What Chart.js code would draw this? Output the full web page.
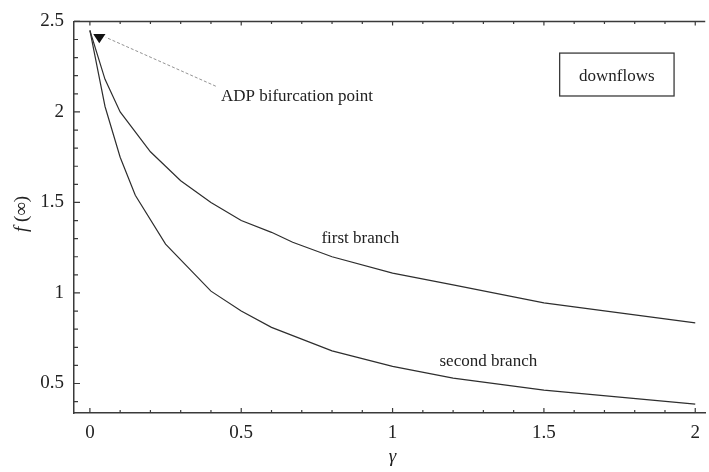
<!DOCTYPE html>
<html lang="en">
<head>
  <meta charset="UTF-8">
  <title>f(∞) vs γ — downflows</title>
  <script src="https://cdn.jsdelivr.net/npm/chart.js@4.4.0/dist/chart.umd.min.js"></script>
  <style>
    * { box-sizing: border-box; margin: 0; padding: 0; }
    body { background: #fff; width: 709px; height: 472px; overflow: hidden; }
    canvas { display: block; }
  </style>
</head>
<body>
  <canvas id="chart" width="709" height="472"></canvas>

  <script>
    // first branch
    const gammaFirst = [0, 0.05, 0.1, 0.2, 0.25, 0.3, 0.4, 0.5, 0.6, 0.67, 0.8, 1.0, 1.2, 1.5, 2.0];
    const fFirst     = [2.45, 2.18, 2.0, 1.78, 1.70, 1.62, 1.50, 1.40, 1.335, 1.28, 1.20, 1.11, 1.045, 0.945, 0.835];

    // second branch
    const gammaSecond = [0, 0.05, 0.1, 0.15, 0.25, 0.4, 0.5, 0.6, 0.8, 1.0, 1.2, 1.5, 2.0];
    const fSecond     = [2.45, 2.03, 1.75, 1.54, 1.27, 1.01, 0.90, 0.81, 0.68, 0.595, 0.53, 0.463, 0.386];

    const xTicks = [0, 0.5, 1, 1.5, 2];
    const yTicks = [0.5, 1, 1.5, 2, 2.5];

    const SERIF = "'Liberation Serif', 'DejaVu Serif', serif";
    const AXIS = '#3a3a3a';
    const INK = '#222';

    const pts = (xs, ys) => xs.map((x, i) => ({ x, y: ys[i] }));

    // inward ticks, open top frame, labels and arrow
    const decorations = {
      id: 'decorations',
      afterDraw(chart) {
        const { ctx, chartArea: a, scales: { x, y } } = chart;
        const X = v => x.getPixelForValue(v);
        const Y = v => y.getPixelForValue(v);
        ctx.save();

        // top frame line (no right side)
        ctx.strokeStyle = AXIS;
        ctx.lineWidth = 1.5;
        ctx.beginPath();
        ctx.moveTo(a.left, a.top);
        ctx.lineTo(a.right, a.top);
        ctx.stroke();

        ctx.lineWidth = 1.2;
        ctx.beginPath();
        for (let i = 0; i <= 20; i++) {
          const v = i / 10, px = X(v), major = i % 5 === 0;
          ctx.moveTo(px, a.bottom); ctx.lineTo(px, a.bottom - (major ? 5 : 3));
          ctx.moveTo(px, a.top); ctx.lineTo(px, a.top + (major ? 4 : 2.5));
        }
        for (let i = 4; i <= 25; i++) {
          const v = i / 10, py = Y(v), major = i % 5 === 0;
          ctx.moveTo(a.left, py); ctx.lineTo(a.left + (major ? 6 : 4), py);
        }
        ctx.stroke();

        // axis titles
        ctx.fillStyle = INK;
        ctx.textAlign = 'center';
        ctx.textBaseline = 'middle';
        ctx.font = 'italic 19px ' + SERIF;
        ctx.fillText('γ', X(1), 457);

        ctx.save();
        ctx.translate(22, 214);
        ctx.rotate(-Math.PI / 2);
        ctx.textAlign = 'left';
        const fw = ctx.measureText('f').width;
        ctx.font = '19px ' + SERIF;
        const rest = ' (∞)';
        const total = fw + ctx.measureText(rest).width;
        ctx.font = 'italic 19px ' + SERIF;
        ctx.fillText('f', -total / 2, 0);
        ctx.font = '19px ' + SERIF;
        ctx.fillText(rest, -total / 2 + fw, 0);
        ctx.restore();

        // annotations
        ctx.font = '17px ' + SERIF;
        ctx.textAlign = 'left';
        ctx.textBaseline = 'alphabetic';
        ctx.fillText('ADP bifurcation point', X(0.433), Y(2.062));
        ctx.fillText('first branch', X(0.765), Y(1.275));
        ctx.fillText('second branch', X(1.155), Y(0.594));

        // boxed label
        ctx.strokeStyle = AXIS;
        ctx.lineWidth = 1.3;
        ctx.strokeRect(X(1.552), Y(2.325), X(1.930) - X(1.552), Y(2.088) - Y(2.325));
        ctx.textAlign = 'center';
        ctx.fillText('downflows', (X(1.552) + X(1.930)) / 2, Y(2.17));

        // dashed arrow to the bifurcation point
        ctx.strokeStyle = '#777';
        ctx.lineWidth = 0.8;
        ctx.setLineDash([3, 2]);
        ctx.beginPath();
        ctx.moveTo(X(0.416), Y(2.142));
        ctx.lineTo(X(0.0525), Y(2.412));
        ctx.stroke();
        ctx.setLineDash([]);
        ctx.fillStyle = '#111';
        ctx.beginPath();
        ctx.moveTo(X(0.011), Y(2.431));
        ctx.lineTo(X(0.0515), Y(2.431));
        ctx.lineTo(X(0.031), Y(2.38));
        ctx.closePath();
        ctx.fill();

        ctx.restore();
      }
    };

    new Chart(document.getElementById('chart'), {
      type: 'line',
      data: {
        datasets: [
          { label: 'first branch', data: pts(gammaFirst, fFirst) },
          { label: 'second branch', data: pts(gammaSecond, fSecond) }
        ]
      },
      options: {
        responsive: false,
        animation: false,
        layout: { padding: { top: 18, right: 0, left: 0, bottom: 0 } },
        elements: {
          line: { borderColor: '#2e2e2e', borderWidth: 1.2, tension: 0, fill: false },
          point: { radius: 0 }
        },
        plugins: { legend: { display: false }, tooltip: { enabled: false } },
        scales: {
          x: {
            type: 'linear',
            min: -0.0525,
            max: 2.033,
            afterBuildTicks: s => { s.ticks = xTicks.map(v => ({ value: v })); },
            afterFit: s => { s.height = 59; },
            grid: { display: false, drawTicks: false },
            border: { display: true, color: AXIS, width: 1.5 },
            ticks: {
              padding: 9,
              maxRotation: 0,
              color: INK,
              font: { family: SERIF, size: 19 },
              callback: v => String(v)
            }
          },
          y: {
            min: 0.337,
            max: 2.5,
            afterBuildTicks: s => { s.ticks = yTicks.map(v => ({ value: v })); },
            afterFit: s => { s.width = 74; },
            grid: { display: false, drawTicks: false },
            border: { display: true, color: AXIS, width: 1.5 },
            ticks: {
              padding: 10,
              color: INK,
              font: { family: SERIF, size: 19 },
              callback: v => String(v)
            }
          }
        }
      },
      plugins: [decorations]
    });
  </script>
</body>
</html>
